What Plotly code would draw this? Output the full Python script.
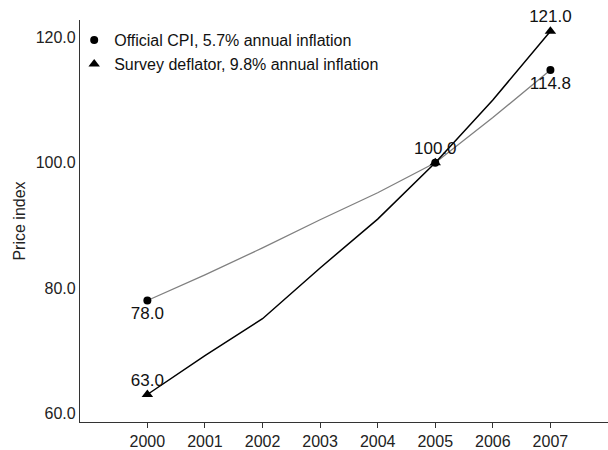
import plotly.graph_objects as go

years = [2000, 2001, 2002, 2003, 2004, 2005, 2006, 2007]
official_cpi = [78.0, 82.1, 86.4, 90.9, 95.2, 100.0, 107.2, 114.8]
survey_deflator = [63.0, 69.2, 75.1, 83.2, 91.0, 100.0, 110.0, 121.0]

marked_years = [2000, 2005, 2007]
official_marked = [78.0, 100.0, 114.8]
survey_marked = [63.0, 100.0, 121.0]

official_label_years = [2000, 2007]
official_label_values = [78.0, 114.8]
survey_label_years = [2000, 2005, 2007]
survey_label_values = [63.0, 100.0, 121.0]

legend_names = ["Official CPI, 5.7% annual inflation",
                "Survey deflator, 9.8% annual inflation"]

y_ticks = [60, 80, 100, 120]

FONT = "Liberation Sans, Arial, sans-serif"

fig = go.Figure()

fig.add_trace(go.Scatter(x=years, y=official_cpi, mode="lines",
                         line=dict(color="#808080", width=1.3),
                         showlegend=False, hoverinfo="skip"))
fig.add_trace(go.Scatter(x=years, y=survey_deflator, mode="lines",
                         line=dict(color="#000000", width=1.5),
                         showlegend=False, hoverinfo="skip"))

fig.add_trace(go.Scatter(x=marked_years, y=official_marked, mode="markers",
                         marker=dict(symbol="circle", size=8, color="#000000"),
                         name=legend_names[0], showlegend=True, cliponaxis=False))
fig.add_trace(go.Scatter(x=marked_years, y=survey_marked, mode="markers",
                         marker=dict(symbol="triangle-up", size=10, color="#000000"),
                         name=legend_names[1], showlegend=True, cliponaxis=False))

fig.add_trace(go.Scatter(x=official_label_years, y=official_label_values,
                         mode="markers+text",
                         marker=dict(size=8, opacity=0),
                         text=[f"{v:.1f}" for v in official_label_values],
                         textposition="bottom center",
                         textfont=dict(family=FONT, size=17, color="#111111"),
                         showlegend=False, hoverinfo="skip", cliponaxis=False))
fig.add_trace(go.Scatter(x=survey_label_years, y=survey_label_values,
                         mode="markers+text",
                         marker=dict(size=6, opacity=0),
                         text=[f"{v:.1f}" for v in survey_label_values],
                         textposition="top center",
                         textfont=dict(family=FONT, size=17, color="#111111"),
                         showlegend=False, hoverinfo="skip", cliponaxis=False))

fig.update_layout(
    width=608, height=450,
    margin=dict(l=80, r=0, t=20, b=28),
    paper_bgcolor="white", plot_bgcolor="white",
    font=dict(family=FONT, size=16, color="#222222"),
    showlegend=True,
    legend=dict(x=-0.011, y=0.992, xanchor="left", yanchor="top",
                bgcolor="rgba(0,0,0,0)", borderwidth=0,
                font=dict(family=FONT, size=16, color="#111111"),
                itemwidth=30, tracegroupgap=0),
    xaxis=dict(range=[1998.83, 2008.0], tickmode="array", tickvals=years,
               ticktext=[str(y) for y in years],
               showline=True, linecolor="#333333", linewidth=1.2,
               ticks="outside", ticklen=5, tickcolor="#333333",
               showgrid=False, zeroline=False,
               tickfont=dict(family=FONT, size=16, color="#222222")),
    yaxis=dict(range=[58.61, 122.78], tickmode="array", tickvals=y_ticks,
               ticktext=[f"{v:.1f}" for v in y_ticks],
               showline=True, linecolor="#333333", linewidth=1.2,
               ticks="", showgrid=False, zeroline=False,
               tickfont=dict(family=FONT, size=16, color="#222222"),
               title=dict(text="Price index", standoff=6,
                          font=dict(family=FONT, size=16, color="#222222"))),
)

fig.write_html("out.html", config={"displayModeBar": False},
               post_script="document.body.style.margin='0px';")
